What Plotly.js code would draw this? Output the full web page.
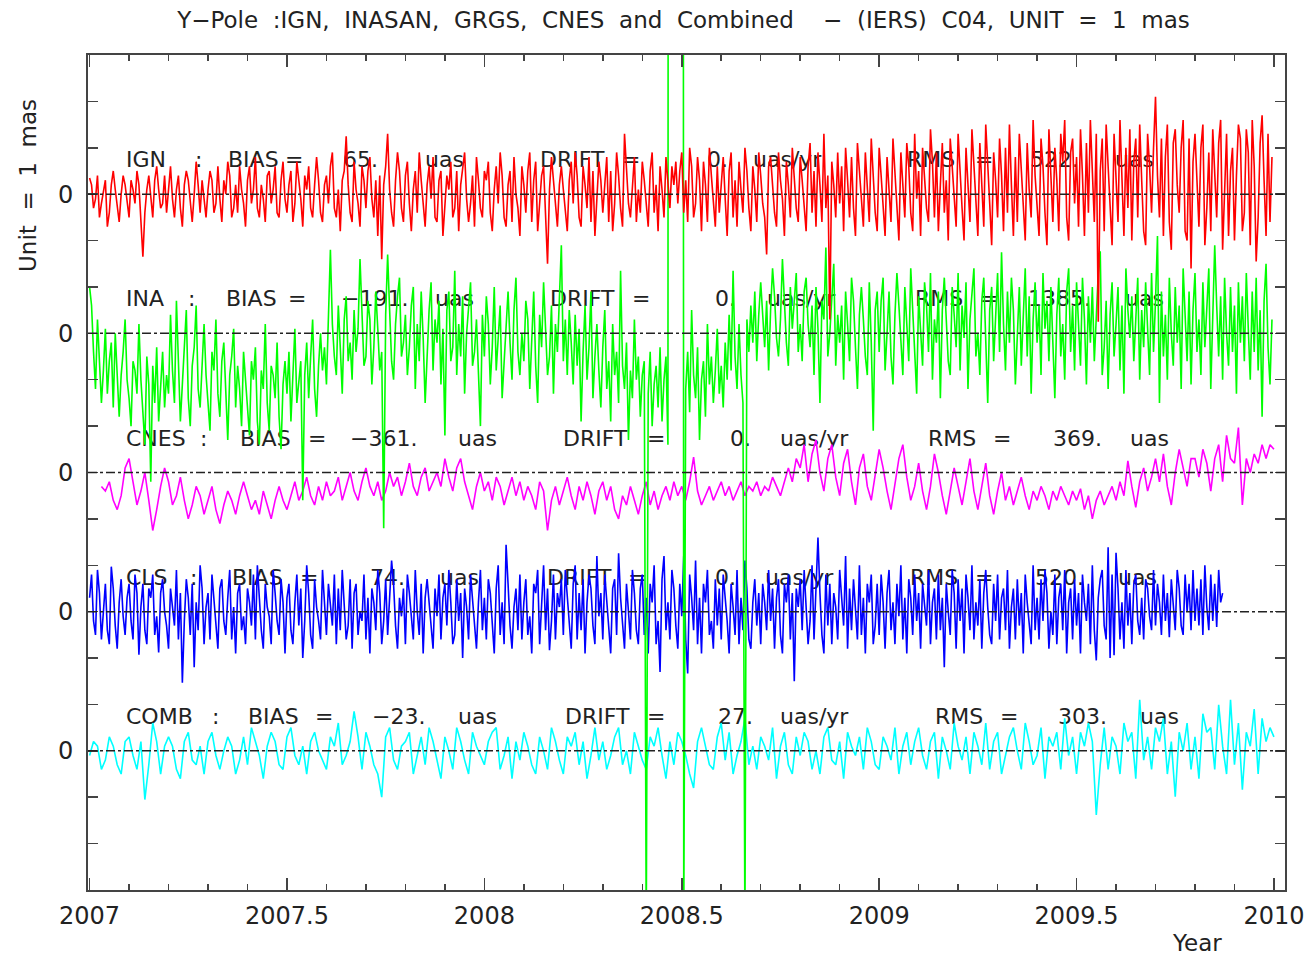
<!DOCTYPE html>
<html><head><meta charset="utf-8">
<script src="https://cdn.plot.ly/plotly-3.0.1.min.js"></script>
<style>html,body{margin:0;padding:0;background:#fff}#chart{width:1309px;height:957px}</style>
</head><body><div id="chart"></div>
<script>
// ---------------- DATA ----------------
const seriesNames = ['IGN', 'INA', 'CNES', 'CLS', 'COMB'];
const biasUas = [65, -191, -361, 74, -23];
const driftUasYr = [0, 0, 0, 0, 27];
const rmsUas = [522, 1385, 369, 520, 303];
const xTickYears = [2007, 2007.5, 2008, 2008.5, 2009, 2009.5, 2010];
const xTickLabels = ['2007', '2007.5', '2008', '2008.5', '2009', '2009.5', '2010'];

// residuals in mas, sampled on a regular time grid (start year, step in years)
const ignStart = 2007.0, ignStep = 0.005;
const ignValues = [
0.35,0.2,-0.3,-0.1,0.4,-0.5,-0.2,0.1,0.3,-0.7,-0.4,0.2,0.5,0.1,-0.3,-0.6,0.0,0.4,0.2,-0.2,
-0.5,0.3,0.1,-0.2,0.5,0.2,-0.6,-1.35,-0.4,0.1,0.4,-0.1,-0.5,0.3,0.6,0.1,-0.3,-0.2,0.4,-0.4,
0.2,0.6,-0.1,-0.5,0.1,0.4,-0.3,-0.7,0.2,0.5,0.3,-0.2,-0.6,0.0,0.7,0.2,-0.4,0.3,-0.1,-0.5,
0.1,0.5,0.3,-0.4,-0.2,0.6,-0.1,-0.6,0.3,0.0,0.7,0.4,-0.5,-0.3,0.2,-0.4,0.6,0.1,-0.2,-0.7,
0.3,0.6,-0.2,0.1,0.8,-0.3,-0.5,0.2,-0.1,-0.6,0.4,0.5,-0.2,0.1,0.6,-0.4,-0.5,0.3,0.7,-0.1,
-0.4,0.2,0.5,-0.6,-0.2,0.7,0.3,-0.1,-0.7,0.4,0.1,0.6,-0.3,-0.5,0.2,0.8,0.3,-0.4,-0.6,0.2,
0.4,-0.2,0.6,0.9,-0.3,-0.5,0.1,-0.8,0.3,0.5,1.25,0.2,-0.4,-0.6,0.7,0.1,-0.2,-0.7,0.6,0.3,
-0.3,0.5,0.8,-0.1,-0.5,0.3,-0.9,0.4,-1.4,0.2,0.6,1.3,0.1,-0.4,-0.7,0.3,0.9,0.5,-0.3,-0.6,
0.4,0.7,-0.2,-0.8,0.1,0.5,-0.4,0.9,0.3,-0.2,-0.7,0.2,0.6,-0.1,0.8,-0.5,-0.6,0.3,0.5,-0.9,
-0.2,0.4,0.1,0.7,-0.5,-0.3,0.5,-0.8,0.2,0.6,0.9,-0.1,-0.6,-0.2,0.4,-0.7,0.8,0.3,-0.3,-0.5,
0.5,0.3,0.7,-0.4,-0.8,0.1,0.6,-0.2,0.9,0.4,-0.5,-0.7,0.2,0.5,-0.6,0.8,0.0,-0.3,-0.9,0.6,
0.2,-0.4,0.5,0.9,-0.6,0.3,0.7,-0.8,-0.2,0.4,0.6,-0.5,-1.5,0.1,0.8,0.3,-0.3,-0.7,0.2,0.6,
0.1,-0.4,-0.8,0.3,0.7,-0.2,0.9,0.4,-0.5,-0.7,0.6,0.2,-0.3,0.8,-0.6,0.5,-0.9,-0.1,0.7,0.3,
-0.4,0.2,0.8,-0.6,0.5,-0.8,-0.2,0.9,0.4,-0.3,-0.7,1.3,0.6,-0.2,-0.5,0.3,0.8,-0.6,0.1,-0.4,
0.7,0.3,-0.2,-0.7,0.5,0.9,-0.4,0.2,-0.8,0.6,0.1,-0.5,0.8,0.3,-0.3,0.6,0.2,0.7,-0.2,0.5,
0.9,-0.4,0.3,-0.6,1.0,0.6,-0.5,-0.2,0.8,0.3,-0.8,0.7,0.2,-0.6,1.0,0.4,-0.2,-0.7,0.6,-0.4,
0.2,0.8,-0.1,-0.9,0.5,0.9,-0.5,0.3,-0.7,0.7,0.1,-0.4,1.0,0.5,-0.3,-0.8,0.6,0.1,-0.6,0.9,
0.4,-0.2,-0.5,-1.3,0.6,0.8,0.2,-0.4,-0.7,0.9,0.3,-0.1,-0.9,0.7,0.2,-0.5,1.0,0.4,-0.3,-0.6,
0.8,0.3,-0.2,-0.8,0.6,1.1,-0.4,0.5,-0.7,0.9,0.2,-0.6,1.3,-0.3,0.4,-2.7,0.7,0.2,-0.5,0.9,
-0.2,0.6,-0.8,1.0,0.3,-0.5,0.8,-0.3,-0.9,1.1,0.5,-0.1,-0.7,0.9,0.2,-0.6,1.2,0.4,-0.4,-0.8,
1.0,0.4,-0.2,-0.9,0.8,0.1,-0.6,1.2,0.5,-0.3,-1.0,0.9,0.2,-0.5,1.1,0.6,-0.4,-0.8,1.3,-0.1,
0.5,-0.9,1.0,0.3,-0.3,-0.6,1.4,0.7,-0.5,0.9,-0.8,0.2,1.1,-0.4,0.3,-1.0,1.2,0.6,-0.2,-0.7,
1.3,0.4,-0.3,-1.0,1.0,0.2,-0.6,1.4,0.6,-0.4,-0.9,1.1,0.0,-0.7,1.5,0.5,-0.2,-1.1,0.9,0.3,
-0.5,1.2,0.4,-0.8,1.0,-0.4,1.5,0.2,-0.9,0.8,-0.6,1.3,0.5,-0.2,-1.0,1.1,0.1,-0.5,1.6,0.4,
-0.3,-0.9,1.2,0.6,-0.4,-1.1,1.4,0.2,-0.6,1.0,0.3,-0.8,1.3,0.7,1.6,-0.5,-1.0,0.9,1.2,-0.2,
0.8,-0.7,1.4,0.4,-0.9,1.1,-0.4,1.6,0.3,-0.6,1.3,-2.75,0.5,1.2,-0.8,1.5,0.6,-0.3,-1.1,1.3,
0.2,-0.6,1.6,0.5,-0.9,1.0,-0.3,1.4,-1.0,0.7,1.2,-0.5,1.5,0.3,-0.8,-1.1,1.3,0.6,-0.4,1.0,
2.1,0.4,-0.5,1.2,-0.9,0.8,1.5,-0.6,-1.2,1.1,1.4,0.2,-0.4,1.0,1.6,-0.8,-1.0,1.2,-1.6,0.7,
1.3,0.3,-0.7,1.0,1.5,-1.1,-0.3,0.9,-0.8,1.4,0.4,-0.5,1.1,1.6,-1.2,0.1,1.3,-0.9,0.5,1.0,
-1.0,0.4,1.5,1.2,-0.8,-0.4,1.4,0.9,-1.1,1.6,0.6,-1.45,-0.5,1.1,1.7,0.3,-0.9,1.3,-0.6,0.8
];

const inaStart = 2007.0, inaStep = 0.005;
const inaValues = [
1.0,0.6,-0.4,-1.2,0.3,-0.5,-1.5,-0.8,0.1,-1.3,-0.6,-0.2,-1.6,0.0,-1.1,-1.8,-0.9,-0.4,0.3,-1.0,
-1.4,-2.0,-0.6,-0.8,-1.3,0.2,-1.0,-1.7,-2.4,-0.5,-1.1,-3.2,-0.7,-1.5,-0.3,-1.9,-1.0,-0.4,-1.6,-0.9,
-1.3,0.4,-0.8,-1.5,0.7,-0.6,-1.9,-1.1,-0.2,0.5,-1.4,-2.0,-0.7,-0.3,0.6,-1.2,-1.6,-0.5,0.2,-0.9,
-1.5,-2.1,-0.4,-0.8,0.3,-1.3,-1.8,-0.6,-0.2,-1.1,-2.3,-0.9,-0.5,0.1,-1.6,-0.7,-1.2,-2.0,-0.4,-1.0,
-1.7,-2.2,-0.6,-1.0,-0.3,-1.9,-2.4,-0.8,-1.2,0.2,-1.5,-2.1,-0.7,-0.9,-1.4,-0.2,-1.8,-2.5,-1.1,-0.6,
-1.3,-0.4,-1.9,-0.8,0.1,-1.5,-1.1,-0.6,-3.6,-0.9,-0.2,-1.4,-0.5,0.3,-1.2,-1.8,-0.7,0.0,-0.8,-0.3,
-1.1,0.4,1.8,0.2,-0.5,-0.9,0.6,-0.3,-1.3,0.3,0.8,-0.6,-0.2,-1.0,0.5,-0.4,0.1,1.6,0.2,-0.7,
-0.5,0.7,0.3,-1.1,-0.3,0.9,0.1,-0.8,-0.4,-4.2,0.4,1.7,0.5,-0.6,-1.0,0.2,0.8,1.2,-0.5,-0.2,
0.4,-0.9,-0.3,0.6,1.0,-1.2,0.2,-0.6,0.9,-0.1,-1.5,-0.4,0.5,1.1,-0.8,0.3,-0.2,0.7,-1.1,0.1,
-2.2,0.5,0.9,-0.6,-0.3,1.35,-0.9,0.2,-0.5,0.8,-1.3,0.0,0.6,1.1,-0.7,-0.4,0.3,-1.0,-2.0,0.4,
-0.5,0.8,0.2,-1.1,-0.3,1.0,-0.8,-0.1,0.6,-1.4,-0.6,0.3,0.9,-0.2,-1.0,0.5,1.2,-0.4,-0.9,0.0,
-0.6,0.7,0.3,-1.2,-0.2,0.9,-0.7,-1.5,0.4,-0.3,1.1,0.1,-0.9,-0.5,0.6,-1.3,0.2,-0.4,0.8,1.9,
-0.6,0.3,-0.9,0.5,-0.2,-1.1,0.4,-0.7,0.1,-1.9,-0.4,0.6,-1.0,-0.3,0.9,-1.4,-0.5,0.2,-0.8,-1.6,
-0.3,0.5,-1.2,-0.6,-1.9,0.2,-0.9,-0.4,-1.5,1.35,-0.7,-1.2,-0.2,-2.3,-0.8,-1.4,0.3,-1.0,-0.5,-1.8,
-0.9,-0.6,-13,-1.3,-0.4,-2.0,-1.1,-0.7,-1.6,-0.3,-1.9,-1.0,-0.5,-2.4,100,100,100,100,100,100,
100,-13,-1.2,-0.4,-1.7,0.5,-0.9,-1.4,-0.3,-2.3,-1.0,-0.6,-1.8,0.2,-1.1,-0.5,-1.5,-0.8,0.1,-1.3,
-0.7,-1.6,-0.2,-1.0,0.4,-0.8,1.35,-0.5,-1.2,0.2,-0.9,-1.5,-13,0.3,-0.4,0.6,-0.2,0.9,-0.6,0.4,
1.1,0.4,-0.3,0.7,-0.8,0.5,1.4,0.8,-0.1,-0.5,0.3,1.6,0.6,-0.2,-0.7,1.0,0.1,0.8,1.3,-0.4,
0.2,-0.6,0.9,1.2,0.2,-0.3,0.6,-0.9,1.0,0.1,-1.5,0.7,0.3,1.85,-0.5,0.0,0.8,1.5,-0.7,0.4,
-0.2,0.6,-1.0,0.9,0.2,-0.6,1.2,0.7,-0.3,-1.2,0.4,1.0,0.3,-0.5,-0.9,1.1,-0.2,-2.1,0.5,0.9,
-0.4,0.7,1.2,-0.8,0.0,0.9,-0.5,-1.1,0.4,1.3,0.6,-0.3,-0.9,1.0,0.2,-0.6,1.4,0.5,-0.2,-1.3,
0.8,0.1,-0.7,1.1,0.6,-0.4,1.3,-1.0,0.3,-0.2,0.9,-1.4,0.5,1.2,0.2,-0.6,-0.9,1.0,0.4,-0.3,
1.3,-0.8,0.6,-0.1,1.1,-1.2,0.3,0.9,1.4,-0.5,0.0,-0.9,0.7,1.2,-0.3,-1.5,0.5,1.0,-0.6,0.3,
1.3,-0.4,1.75,0.2,-0.8,0.9,-0.2,1.2,0.5,-1.1,0.0,1.0,-0.7,0.4,1.4,-0.5,0.8,-1.3,0.3,1.1,
-0.2,0.6,-0.9,1.3,0.1,0.7,-0.6,1.0,-0.3,-1.4,0.4,1.2,-0.5,0.2,-1.0,0.9,1.4,-0.4,0.6,-0.8,
1.1,0.0,-0.7,1.2,0.3,-1.1,0.8,-0.2,1.0,-0.6,0.5,1.3,1.77,-0.9,-0.3,0.7,-1.2,0.4,1.1,-0.5,
0.2,1.0,-0.8,0.6,-1.3,1.4,0.5,-0.1,0.8,-0.6,0.3,1.2,-1.0,0.5,-0.3,1.1,0.1,-0.9,1.3,-0.4,
0.7,2.1,-1.5,0.9,-0.5,0.4,-1.0,1.2,0.0,-0.7,1.0,-0.2,0.6,-1.2,1.4,0.2,-0.6,0.9,-1.1,0.5,
1.3,-0.4,0.3,-0.9,1.1,-0.3,0.7,1.4,-1.2,0.2,1.9,0.6,-0.5,0.8,-1.0,1.2,0.0,-0.7,1.0,-0.4,
0.6,-1.3,1.1,-0.2,0.8,-0.6,1.3,0.1,-1.0,0.9,-0.4,1.2,-0.8,0.5,-1.8,0.7,1.5,-0.3,-1.1,0.3
];

const cnesStart = 2007.03, cnesStep = 0.01;
const cnesValues = [
-0.3,-0.4,-0.2,-0.6,-0.8,-0.5,0.1,
0.3,-0.2,-0.7,-0.4,0.0,-0.6,-1.25,-0.8,-0.3,0.1,
-0.2,-0.7,-0.5,-0.1,-0.6,-1.0,-0.7,-0.3,-0.5,-0.9,
-0.6,-0.3,-0.8,-1.1,-0.7,-0.4,-0.6,-0.9,-0.5,-0.2,
-0.5,-0.8,-0.6,-0.9,-0.4,-0.7,-1.0,-0.6,-0.3,-0.6,
-0.8,-0.5,-0.2,-0.6,-0.4,-0.1,-0.5,-0.7,-0.3,-0.6,
-0.2,-0.5,-0.4,-0.1,-0.6,-0.3,0.0,-0.4,-0.6,-0.2,
0.1,-0.3,-0.5,-0.2,-0.6,-0.4,0.0,-0.3,-0.1,-0.5,
-0.2,0.2,-0.3,-0.5,-0.1,0.1,-0.4,-0.2,0.0,-0.3,
0.3,-0.1,-0.4,0.1,0.3,-0.2,-0.5,-0.8,-0.3,0.0,
-0.4,-0.2,-0.6,-0.1,-0.3,-0.7,-0.4,-0.1,-0.5,-0.2,
-0.6,-0.3,-0.5,-0.8,-0.2,-0.4,-1.25,-0.6,-0.3,-0.7,
-0.4,-0.1,-0.5,-0.8,-0.3,-0.6,-0.2,-0.5,-0.9,-0.4,
-0.2,-0.6,-0.3,-0.8,-1.0,-0.5,-0.7,-0.3,-0.6,-0.9,
-0.5,-0.2,-0.7,-0.4,-0.8,-0.5,-0.3,-0.6,-0.2,-0.5,
-0.3,-0.6,-0.2,0.33,-0.4,-0.7,-0.5,-0.3,-0.6,-0.4,
-0.2,-0.5,-0.3,-0.6,-0.4,-0.2,-0.5,-0.3,-0.4,-0.2,
-0.5,-0.3,-0.4,-0.1,-0.3,-0.5,-0.2,0.1,-0.2,0.3,
0.1,0.6,-0.2,0.4,0.7,0.0,-0.4,0.3,0.6,-0.1,
-0.5,0.2,0.5,-0.2,-0.7,0.1,0.4,-0.3,-0.6,0.0,
0.5,0.1,-0.4,-0.8,-0.2,0.3,0.6,-0.1,-0.6,-0.3,
0.2,-0.4,-0.8,-0.3,0.4,0.0,-0.5,-0.9,-0.4,0.1,
-0.3,-0.7,-0.2,0.3,-0.4,-0.8,-0.3,0.2,-0.5,-0.9,
-0.4,0.0,-0.6,-0.3,-0.7,-0.4,-0.1,-0.5,-0.8,-0.4,
-0.6,-0.3,-0.5,-0.8,-0.4,-0.6,-0.3,-0.5,-0.7,-0.4,
-0.6,-0.35,-0.8,-0.5,-1.0,-0.6,-0.4,-0.7,-0.5,-0.3,
-0.6,-0.2,-0.5,0.25,-0.3,-0.75,-0.2,0.1,-0.4,-0.1,
0.3,-0.2,0.4,-0.3,-0.7,0.0,0.5,0.1,-0.3,0.3,
0.3,-0.1,0.5,0.2,-0.4,0.3,0.6,-0.2,0.8,0.3,
0.2,0.97,-0.7,0.3,0.0,0.4,0.2,0.6,0.3,0.6,
0.5
];

const clsStart = 2007.0, clsStep = 0.005;
const clsValues = [
0.3,0.8,-0.2,-0.5,0.9,0.4,-0.6,0.0,0.6,-0.4,-0.7,0.97,0.5,-0.3,-0.8,0.2,0.7,-0.1,-0.5,0.3,
0.6,-0.2,-0.6,0.8,0.4,-0.93,0.1,0.6,-0.4,-0.7,0.5,0.3,0.8,-0.5,-0.1,-0.88,0.4,0.7,0.0,-0.3,
-0.8,0.5,0.1,-0.3,0.9,-0.6,0.4,-1.53,-0.2,0.7,0.3,-0.5,0.6,-1.2,0.2,-0.4,1.0,0.5,-0.7,0.1,
0.4,-0.6,0.8,0.2,-0.3,-0.8,0.5,0.7,-0.2,-0.5,0.3,0.9,-0.6,0.1,-0.9,0.4,0.6,-0.4,-0.1,-0.7,
0.5,0.2,-0.3,0.8,-0.6,1.0,0.3,-0.4,-0.8,0.6,0.1,-0.1,-0.7,0.9,0.4,-0.2,-0.5,0.7,0.2,-0.9,
0.3,0.6,-0.4,-0.7,0.2,0.8,-0.3,0.5,-1.0,-0.2,1.0,0.4,-0.5,-0.8,0.7,0.1,-0.2,-0.6,0.9,0.3,
-0.5,0.6,0.2,-0.3,0.8,-0.7,0.5,-0.4,0.9,0.1,-0.6,-0.3,0.7,-0.8,0.4,0.6,-0.5,0.0,-0.2,0.8,
-0.6,0.3,-0.9,0.5,0.2,-0.4,0.9,0.4,-0.7,-0.2,0.7,-0.5,0.2,1.1,0.6,-0.3,-0.8,0.3,-0.1,0.5,
-0.7,0.8,0.4,-0.2,-0.6,0.9,0.0,-0.5,0.6,-0.9,0.3,0.7,0.2,-0.4,-0.8,0.5,-0.1,0.8,-0.6,0.3,
0.6,-0.3,0.9,0.2,-0.7,-0.5,0.7,-0.2,0.4,-1.0,0.5,0.1,-0.6,0.8,0.3,-0.3,-0.8,0.2,0.9,-0.4,
0.3,-0.6,0.7,0.4,-0.2,-0.9,0.5,1.0,-0.5,0.2,-0.7,1.44,0.6,-0.3,-0.8,0.1,0.5,-0.4,0.8,-0.6,
0.2,0.7,-0.5,-0.1,-0.9,0.6,0.4,0.9,-0.7,0.3,1.0,-0.4,0.5,-0.83,-0.2,0.8,-0.6,0.4,0.1,0.7,
-0.5,0.9,0.3,-0.2,-0.8,0.6,1.0,-0.6,0.4,-0.4,0.7,-0.9,0.2,0.8,0.5,-0.3,-0.7,1.2,-0.1,0.4,
-0.6,0.8,0.2,-0.3,-0.9,0.5,0.7,-0.5,1.26,0.3,-0.2,-0.8,0.6,0.0,-0.6,0.9,0.4,-0.4,-0.7,0.5,
0.8,-0.5,0.3,-0.9,0.6,0.2,1.0,-0.7,-0.2,-1.3,0.7,1.2,-0.4,0.2,-0.6,0.9,0.5,-0.3,-0.8,0.6,
-0.1,1.2,-0.6,-1.33,0.8,0.3,-0.4,1.1,-0.7,0.3,-0.9,0.6,0.2,0.9,-0.5,-0.2,-0.8,0.7,-0.3,0.5,
-0.6,0.8,0.3,-0.2,-0.9,0.6,0.1,-0.5,0.9,-0.7,0.3,-0.4,1.1,0.5,-0.6,-0.8,0.2,0.7,-0.3,0.4,
-0.7,0.6,0.2,-0.4,0.9,-0.2,0.5,-0.8,0.3,0.7,-0.5,-0.9,0.6,0.2,0.8,-0.6,0.4,-1.5,0.5,0.1,
0.7,-0.4,0.9,0.2,-0.7,-0.2,1.0,-0.6,0.5,1.6,0.4,-0.5,-0.9,0.8,-0.3,0.6,-0.7,0.4,0.1,-0.6,
0.9,0.3,-0.3,1.2,-0.8,0.5,-0.4,0.7,0.0,-0.6,1.0,-0.5,0.3,-0.9,0.6,0.2,0.8,-0.7,-0.3,0.6,
-0.5,0.8,0.2,-0.8,0.4,0.9,-0.4,0.2,-0.7,0.6,-0.1,1.0,-0.6,0.3,-0.9,0.7,0.3,-0.5,0.8,-0.2,
0.4,-0.8,0.6,0.1,-0.3,0.9,-0.7,0.2,0.5,-0.6,0.8,-0.4,0.3,-1.2,0.6,0.0,-0.5,0.9,0.4,-0.8,
0.7,-0.2,0.5,-0.9,0.8,0.3,-0.4,1.0,-0.6,0.2,-0.3,0.7,-0.8,0.4,0.9,0.1,-0.5,-0.7,0.6,-0.2,
0.8,-0.6,0.3,0.5,-0.4,0.9,-0.8,0.1,0.5,-0.6,0.7,-0.3,0.4,-0.9,0.8,0.2,-0.2,-0.7,1.0,-0.4,
0.3,-0.6,0.7,-0.2,0.9,0.4,-0.8,0.0,-0.5,0.8,-0.7,0.3,0.6,-0.4,0.9,-0.9,0.2,0.5,-0.6,0.7,
-0.3,0.4,-0.9,0.8,0.2,-0.2,0.6,-0.7,1.0,-0.4,-1.05,0.3,0.7,0.9,-0.3,-0.6,1.39,-1.0,0.8,-0.94,
1.27,0.5,-0.6,0.2,-0.8,0.9,-0.3,0.4,-0.7,0.6,0.8,-0.2,-0.5,0.3,-0.6,0.7,0.5,-0.1,-0.4,0.9,
-0.3,0.6,0.2,-0.5,0.8,-0.2,0.4,-0.55,0.7,0.1,-0.4,0.9,0.5,-0.3,-0.5,0.8,0.0,0.6,-0.4,0.9,
-0.2,0.5,-0.3,0.7,-0.5,1.0,0.1,-0.4,0.8,-0.2,0.6,-0.33,0.9,0.2,0.4
];

const combStart = 2007.0, combStep = 0.01;
const combValues = [
-0.1,0.2,0.1,-0.4,-0.2,0.3,0.1,-0.3,-0.5,0.2,
0.3,-0.1,-0.4,0.2,-1.05,-0.3,0.6,0.2,-0.5,0.1,
0.3,0.1,-0.4,-0.6,0.2,0.4,-0.2,-0.3,0.1,-0.5,
0.2,0.4,-0.1,-0.4,0.0,0.3,0.1,-0.5,-0.2,0.3,
-0.3,0.5,0.2,-0.1,-0.6,0.1,0.4,0.2,-0.3,-0.4,
0.3,0.5,-0.1,-0.3,0.1,-0.5,0.2,0.4,0.0,-0.2,
-0.4,0.3,0.1,0.6,-0.3,-0.1,0.2,0.85,0.3,-0.4,
0.4,0.1,-0.3,-0.5,-1.0,0.3,0.5,-0.2,-0.4,0.1,
0.2,0.4,-0.5,-0.1,0.3,-0.3,0.5,0.2,-0.2,-0.6,
0.3,0.0,-0.4,0.5,0.2,-0.2,-0.5,0.4,0.1,-0.1,
-0.3,0.2,0.4,0.5,-0.4,-0.1,0.3,-0.6,0.2,-0.2,
0.4,0.1,-0.3,-0.5,0.3,0.0,-0.4,0.5,0.2,-0.2,
-0.5,0.3,0.1,0.4,-0.3,0.2,-0.6,-0.1,0.5,-0.2,
0.2,-0.4,-0.1,0.3,0.5,-0.3,0.0,-0.5,0.4,0.1,
-0.2,-0.4,0.3,0.1,0.5,-0.1,-0.6,0.2,-0.3,0.4,
0.2,-0.1,-0.5,-0.8,0.2,0.5,0.1,-0.3,-0.4,0.3,
0.6,-0.2,0.4,-0.5,-0.1,0.2,0.7,-0.3,0.1,-0.4,
0.3,0.1,-0.2,0.5,-0.6,0.1,0.4,-0.3,-0.5,0.3,
-0.1,0.4,0.2,-0.4,0.0,-0.5,0.3,0.5,-0.2,-0.3,
0.2,-0.6,0.4,0.1,-0.1,0.3,-0.4,0.5,0.2,-0.3,
-0.4,0.3,0.1,-0.2,0.5,-0.5,0.1,0.4,-0.3,0.2,
0.5,-0.1,-0.4,0.2,0.4,-0.6,0.3,0.0,-0.4,0.6,
0.1,-0.2,0.3,-0.5,0.4,0.1,-0.3,0.6,-0.4,0.2,
0.4,-0.5,-0.1,0.3,0.5,0.0,-0.4,0.6,0.2,-0.3,
-0.1,0.5,-0.6,0.3,0.1,0.4,-0.4,0.7,-0.1,0.3,
-0.5,0.4,0.1,0.6,0.2,-1.38,-0.3,0.5,-0.4,0.3,
0.1,-0.5,0.6,0.2,0.4,-0.6,1.1,-0.2,0.3,-0.4,
0.5,0.2,0.7,-0.5,0.2,-0.99,0.4,0.0,0.6,-0.4,
0.3,-0.6,0.8,0.4,0.5,-0.4,0.99,0.1,-0.5,1.1,
-0.3,0.6,-0.84,0.4,0.1,0.9,-0.5,0.7,0.2,0.5,
0.3
];

// ---------------- STYLE / LAYOUT ----------------
const FONT = 'DejaVu Sans';
const INK = '#222';
const FRAME = '#444';
const seriesColors = ['#ff0000', '#00ff00', '#ff00ff', '#0000ff', '#00ffff'];
const rowOffset = [0, -3, -6, -9, -12];     // vertical stacking of the five panels (mas)
const textLift = 0.7;                         // statistics line above each zero line (mas)
const X0 = 2006.996, X1 = 2010.028;           // x-axis range
const PX0 = 88, PX1 = 1285;                   // plot area in page pixels
const pxToYear = px => X0 + (px - PX0) * (X1 - X0) / (PX1 - PX0);

// left edge (page px) of each token of the statistics line, per row
const tokenPx = [
  [126,195,228,285,343,425,540,622,707,753,907,975,1030,1115],
  [126,188,226,288,341,435,550,632,715,767,915,980,1028,1125],
  [126,200,240,308,350,458,563,647,730,780,928,993,1053,1130],
  [126,190,232,300,370,440,547,628,715,765,910,975,1035,1118],
  [126,212,248,315,372,458,565,647,718,780,935,1000,1058,1140]
];

const fmt = v => (v < 0 ? '\u2212' + Math.abs(v) : String(v)) + '.';
const grid = (start, step, n) => Array.from({length: n}, (_, i) => +(start + i * step).toFixed(5));

const seriesData = [
  [ignStart, ignStep, ignValues],
  [inaStart, inaStep, inaValues],
  [cnesStart, cnesStep, cnesValues],
  [clsStart, clsStep, clsValues],
  [combStart, combStep, combValues]
];

// statistics text (drawn first so the curves lie over it, as in the original)
const tx = [], ty = [], tt = [];
seriesNames.forEach((name, r) => {
  const toks = [name, ':', 'BIAS', '=', fmt(biasUas[r]), 'uas', 'DRIFT', '=', fmt(driftUasYr[r]),
                'uas/yr', 'RMS', '=', fmt(rmsUas[r]), 'uas'];
  toks.forEach((t, j) => { tx.push(pxToYear(tokenPx[r][j])); ty.push(rowOffset[r] + textLift); tt.push(t); });
});

const traces = [{
  type: 'scatter', mode: 'text', x: tx, y: ty, text: tt, textposition: 'middle right',
  textfont: {family: FONT, size: 22, color: INK}, hoverinfo: 'skip', showlegend: false, cliponaxis: false
}];

// drawing order: COMB, CLS, CNES, INA, IGN (IGN on top)
[4, 3, 2, 1, 0].forEach(r => {
  const [s, st, vals] = seriesData[r];
  traces.push({
    type: 'scatter', mode: 'lines', name: seriesNames[r],
    x: grid(s, st, vals.length), y: vals.map(v => v + rowOffset[r]),
    line: {color: seriesColors[r], width: 1.6}, showlegend: false, hoverinfo: 'skip'
  });
});

const yTickVals = [], yTickText = [];
for (let v = -15; v <= 3; v++) { yTickVals.push(v); yTickText.push(rowOffset.includes(v) ? '0' : ''); }

const spaced = s => s.replace(/ /g, '\u00a0\u00a0');

const layout = {
  width: 1309, height: 957,
  margin: {l: PX0, r: 1309 - PX1, t: 55, b: 67},
  paper_bgcolor: '#fff', plot_bgcolor: '#fff',
  showlegend: false,
  title: {
    text: spaced('Y\u2212Pole :IGN, INASAN, GRGS, CNES and Combined  \u2212 (IERS) C04, UNIT = 1 mas'),
    font: {family: FONT, size: 23, color: INK},
    xref: 'paper', x: (683.5 - PX0) / (PX1 - PX0), xanchor: 'center',
    yref: 'container', y: 1 - 20 / 957, yanchor: 'middle'
  },
  xaxis: {
    range: [X0, X1], tickvals: xTickYears, ticktext: xTickLabels,
    ticks: 'inside', ticklen: 12, tickwidth: 1.5, tickcolor: FRAME,
    minor: {tickmode: 'linear', tick0: 2007, dtick: 0.1, ticks: 'inside', ticklen: 6, tickwidth: 1.5, tickcolor: FRAME},
    showline: true, linecolor: FRAME, linewidth: 2, mirror: 'ticks',
    showgrid: false, zeroline: false,
    tickfont: {family: FONT, size: 24, color: INK}, ticklabelstandoff: 3
  },
  yaxis: {
    range: [-15, 3], tickvals: yTickVals, ticktext: yTickText,
    ticks: 'inside', ticklen: 10, tickwidth: 1.5, tickcolor: FRAME,
    showline: true, linecolor: FRAME, linewidth: 2, mirror: 'ticks',
    showgrid: false, zeroline: false,
    tickfont: {family: FONT, size: 24, color: INK}, ticklabelstandoff: 8
  },
  shapes: rowOffset.map(o => ({
    type: 'line', xref: 'paper', x0: 0, x1: 1, yref: 'y', y0: o, y1: o, layer: 'above',
    line: {color: INK, width: 1.5, dash: 'dashdot'}
  })),
  annotations: [
    {text: spaced('Unit = 1 mas'), textangle: -90, xref: 'paper', yref: 'paper',
     x: (28 - PX0) / (PX1 - PX0), y: (890 - 186) / 835, xanchor: 'center', yanchor: 'middle',
     showarrow: false, font: {family: FONT, size: 23, color: INK}},
    {text: 'Year', xref: 'paper', yref: 'paper',
     x: (1197 - PX0) / (PX1 - PX0), y: (890 - 943) / 835, xanchor: 'center', yanchor: 'middle',
     showarrow: false, font: {family: FONT, size: 23, color: INK}}
  ]
};

Plotly.newPlot('chart', traces, layout, {displayModeBar: false, staticPlot: true});
</script>
</body></html>
